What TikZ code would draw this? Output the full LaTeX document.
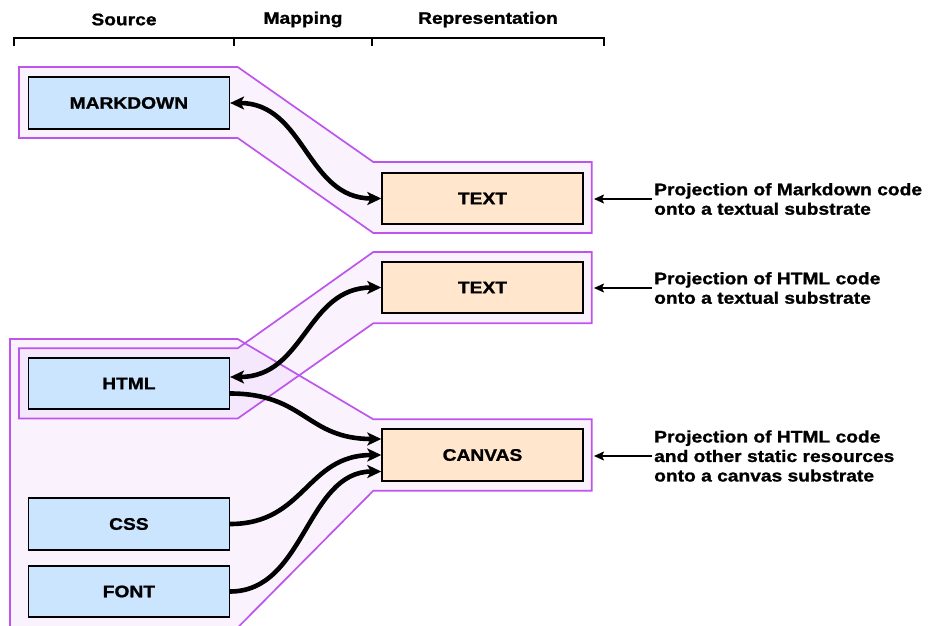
\documentclass[tikz,border=0pt]{standalone}
\usepackage{fontspec}
\setmainfont{Liberation Sans}[FakeStretch=1.15, BoldFeatures={FakeStretch=1.15, FakeBold=1.2}]
\usetikzlibrary{arrows.meta}
\definecolor{pur}{HTML}{BD55EC}
\definecolor{boxblue}{HTML}{CCE5FF}
\definecolor{boxorange}{HTML}{FFE6CC}
\begin{document}
\begin{tikzpicture}[x=1pt,y=-1pt,
  font=\fontsize{16.7}{19.5}\selectfont\bfseries,
  srcbox/.style={draw=black, line width=1.6pt, fill=boxblue, minimum width=200.8pt, minimum height=51.5pt, inner sep=0pt},
  repbox/.style={srcbox, fill=boxorange},
  band/.style={draw=pur, line width=1.7pt, fill=pur, fill opacity=0.07, line join=miter},
  bigtip/.tip={Stealth[length=14pt,width=13pt,inset=3.5pt]},
  link/.style={line width=4.6pt, -bigtip},
  dlink/.style={line width=4.6pt, bigtip-bigtip},
  note/.style={anchor=west, align=left, inner sep=2pt},
  noteline/.style={line width=1.4pt, -{Stealth[length=10pt,width=9pt,inset=2pt]}},
  head/.style={inner sep=0pt},
  bracket/.style={line width=1.6pt}
]
\useasboundingbox (0,0) rectangle (932,626);

% header
\node[head] (hsrc) at (124,19.5) {Source};
\node[head] (hmap) at (303,19.5) {Mapping};
\node[head] (hrep) at (488,19.5) {Representation};
\draw[bracket] (14,46) -- (14,38) -- (604,38) -- (604,46);
\draw[bracket] (234,38) -- (234,46);
\draw[bracket] (372,38) -- (372,46);

% bands
\begin{scope}
\clip (0,0) rectangle (932,626);
\draw[band] (10,339) -- (237.7,339) -- (373.3,419.3) -- (591.7,419.3) -- (591.7,490.7) -- (373.3,490.7) -- (166,700) -- (10,700) -- cycle;
\end{scope}
\draw[band] (19,348.3) -- (237.7,348.3) -- (373.3,252) -- (591.7,252) -- (591.7,323.3) -- (373.3,323.3) -- (237.7,418.5) -- (19,418.5) -- cycle;
\draw[band] (19,67) -- (237.7,67) -- (373.3,162) -- (591.7,162) -- (591.7,233) -- (373.3,233) -- (237.7,138) -- (19,138) -- cycle;

% boxes
\node[srcbox] (md) at (128.9,103) {MARKDOWN};
\node[repbox] (t1) at (482.5,198.5) {TEXT};
\node[repbox] (t2) at (482.5,287.5) {TEXT};
\node[srcbox] (html) at (128.9,383.5) {HTML};
\node[repbox] (cv) at (482.5,455) {CANVAS};
\node[srcbox] (css) at (128.9,524) {CSS};
\node[srcbox] (font) at (128.9,591.5) {FONT};

% connectors
\draw[dlink] (md.east) .. controls +(75,0) and +(-75,0) .. (t1.west);
\draw[dlink] ([yshift=6.5pt]html.east) .. controls +(75,0) and +(-75,0) .. (t2.west);
\draw[link] ([yshift=-10pt]html.east) .. controls +(75,0) and +(-75,0) .. ([yshift=16pt]cv.west);
\draw[link] (css.east) .. controls +(75,0) and +(-75,0) .. (cv.west);
\draw[link] (font.east) .. controls +(75,0) and +(-75,0) .. ([yshift=-16.5pt]cv.west);

% notes
\node[note] (n1) at (652,199) {Projection of Markdown code\\onto a textual substrate};
\node[note] (n2) at (652,288) {Projection of HTML code\\onto a textual substrate};
\node[note] (n3) at (652,456) {Projection of HTML code\\and other static resources\\onto a canvas substrate};
\coordinate (p1) at (594,199);
\coordinate (p2) at (594,288);
\coordinate (p3) at (594,456);
\draw[noteline] (n1.west) -- (p1);
\draw[noteline] (n2.west) -- (p2);
\draw[noteline] (n3.west) -- (p3);
\end{tikzpicture}
\end{document}
